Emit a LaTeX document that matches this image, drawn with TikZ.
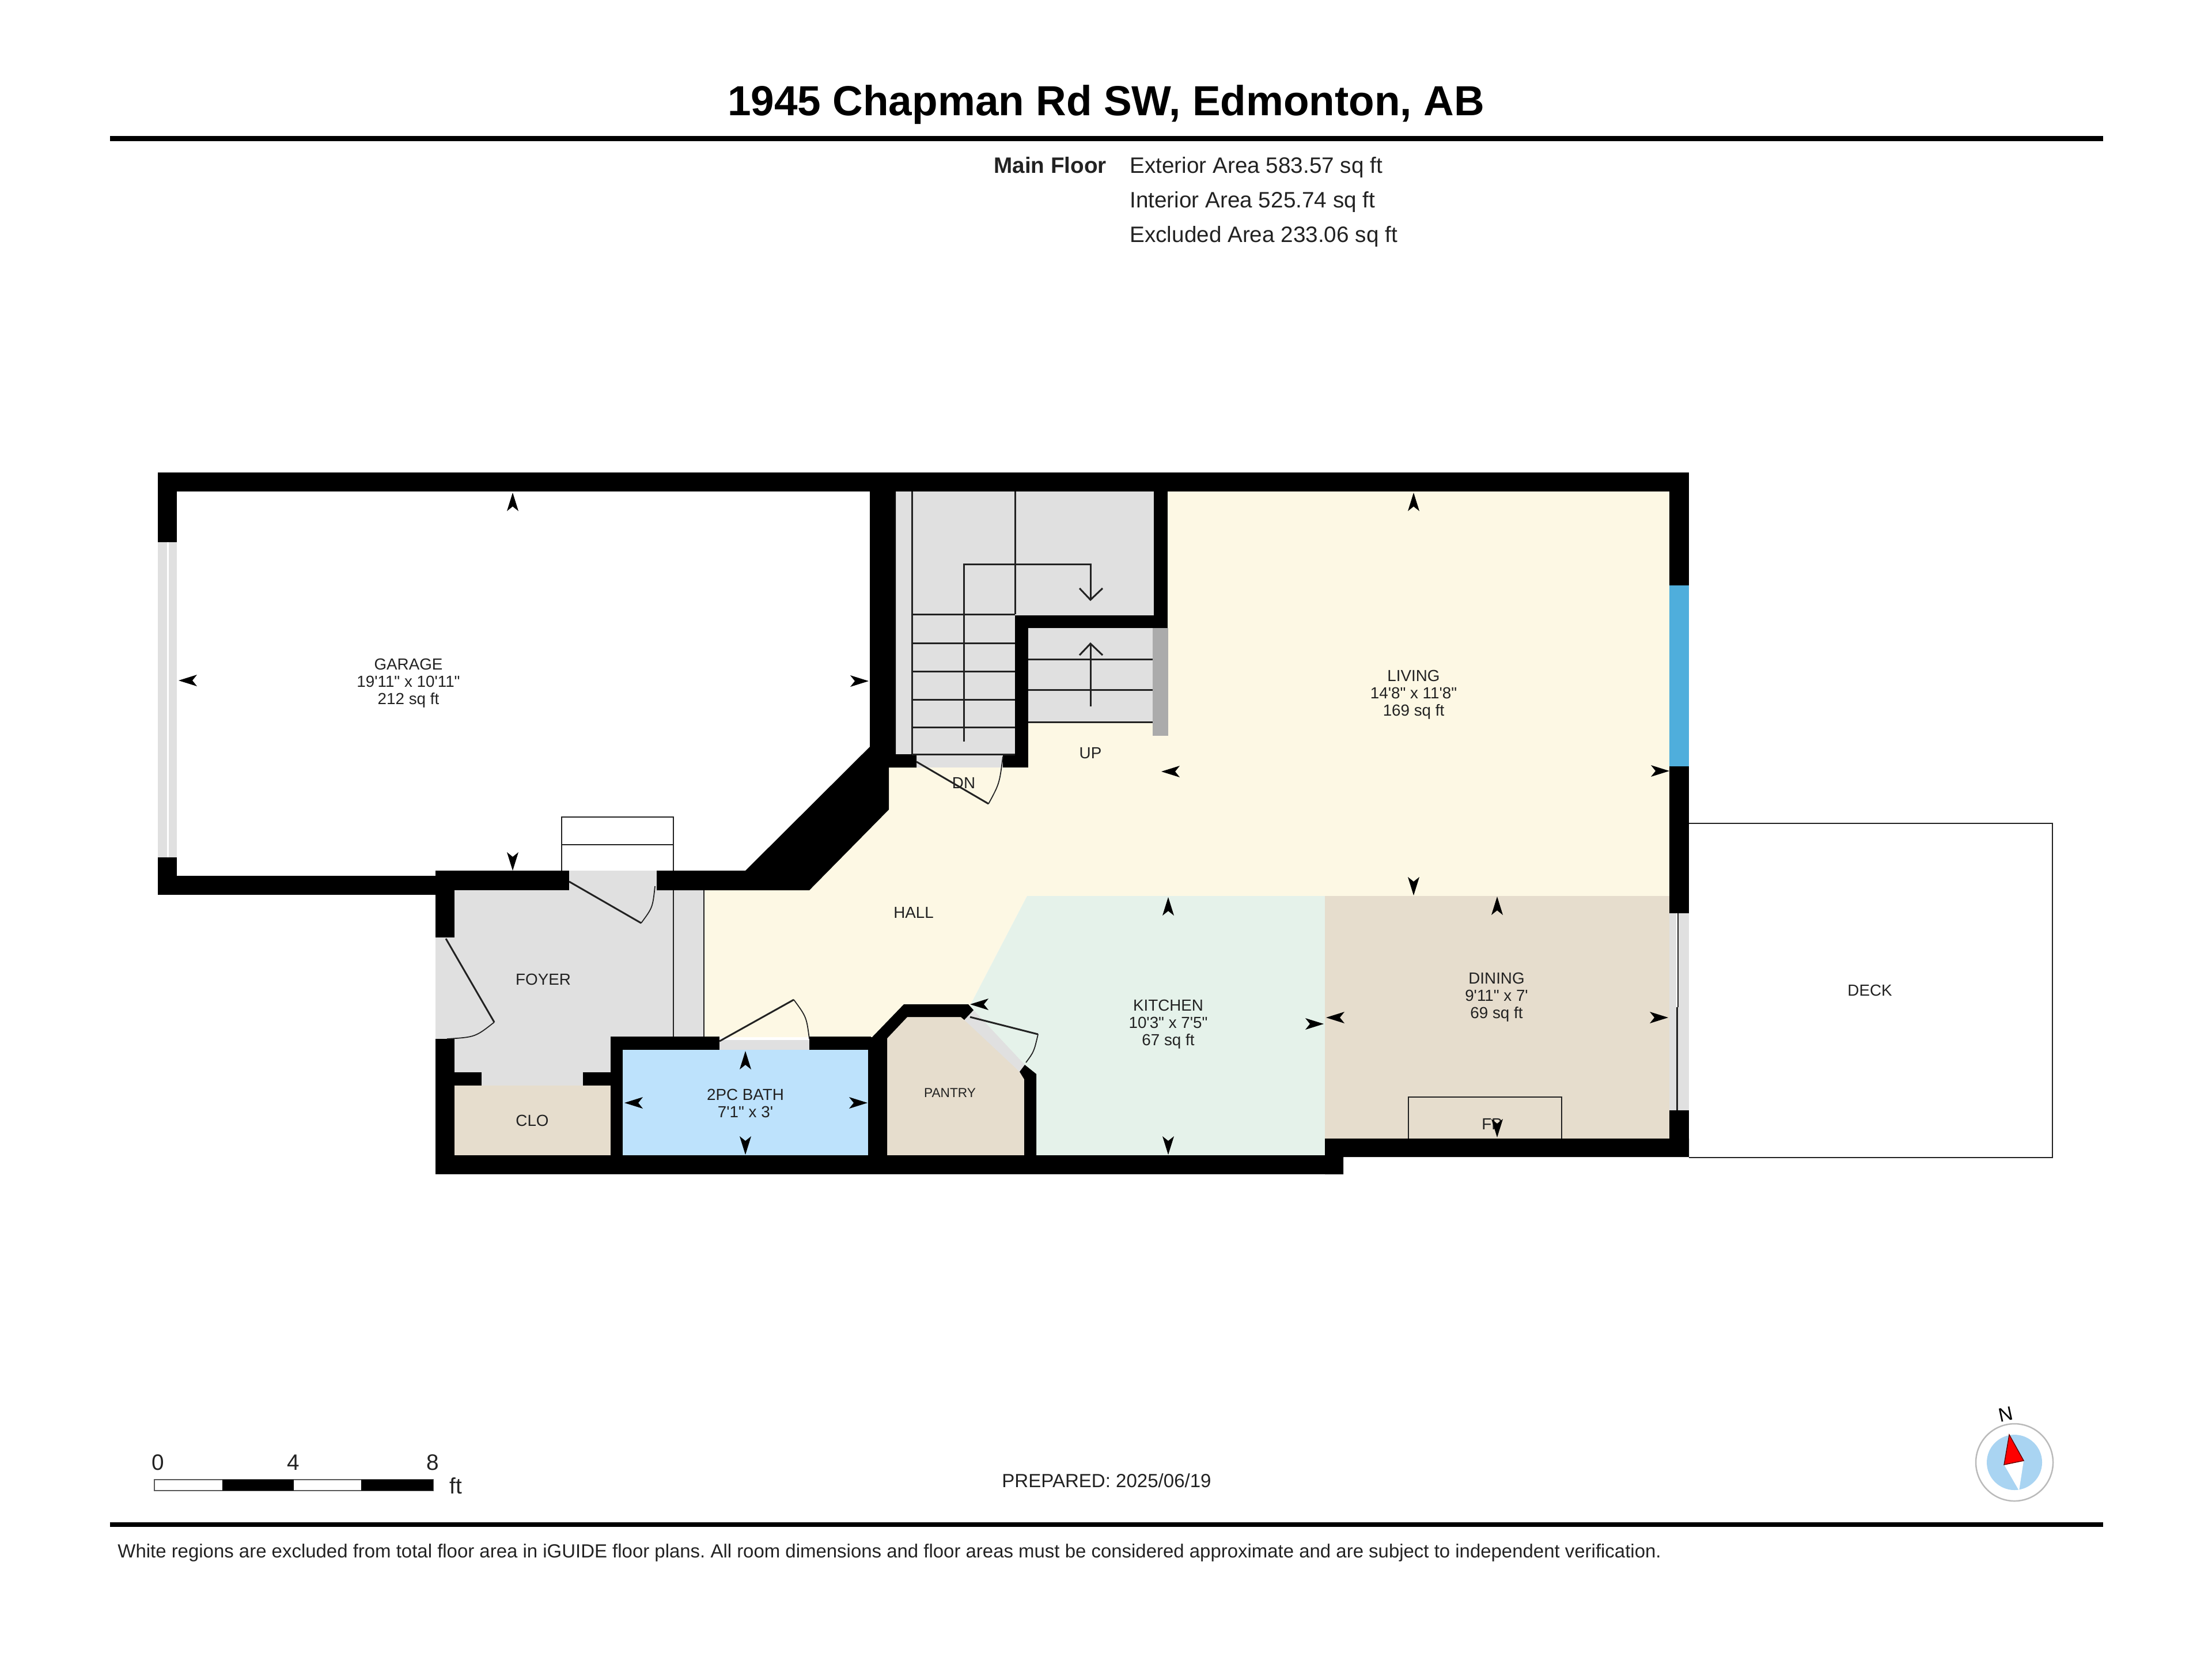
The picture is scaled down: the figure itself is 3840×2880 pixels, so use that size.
\documentclass[tikz,border=0pt]{standalone}
\usepackage{fontspec}
\usepackage{tikz}
\newfontfamily\planfont{Liberation Sans}
\definecolor{cream}{HTML}{FDF8E4}
\definecolor{mint}{HTML}{E5F2EA}
\definecolor{beige}{HTML}{E6DDCD}
\definecolor{bathblue}{HTML}{BDE2FC}
\definecolor{floorgrey}{HTML}{E0E0E0}
\definecolor{inkdark}{HTML}{222222}
\definecolor{windowblue}{HTML}{4FAEDC}
\definecolor{compassblue}{HTML}{A9D4F2}
\tikzstyle{wall}=[fill=black]
\tikzstyle{thin line}=[draw=inkdark,line width=0.85pt]
\tikzstyle{hair line}=[draw=inkdark,line width=0.5pt]
\tikzstyle{room}=[inner sep=0,align=center,text=inkdark,font=\planfont\frenchspacing\fontsize{7.9}{8.55}\selectfont]
\tikzstyle{small room}=[room,font=\planfont\fontsize{6.45}{7}\selectfont]
\tikzstyle{sheet}=[inner sep=0,anchor=base west,text=inkdark,font=\planfont\frenchspacing\fontsize{11}{13}\selectfont]
\newcommand\roommark[3]{\fill[black,shift={(#1,#2)},rotate=#3] (0,0) -- (-32,-10) -- (-24,0) -- (-32,10) -- cycle;}
\begin{document}
\begin{tikzpicture}[x=0.01cm,y=-0.01cm,line width=0.8pt]
  \useasboundingbox (0,0) rectangle (3840,2880);
  % sheet
  \node[inner sep=0,anchor=base,font=\planfont\bfseries\frenchspacing\fontsize{20.75}{24}\selectfont] at (1920,200) (title) {1945 Chapman Rd SW, Edmonton, AB};
  \fill (191,236) rectangle (3651,245);
  \fill (191,2642) rectangle (3651,2650);
  \node[sheet,font=\planfont\bfseries\fontsize{11}{13}\selectfont] at (1724,300) (floor) {Main Floor};
  \node[sheet] at (1960,300) (exterior) {Exterior Area 583.57 sq ft};
  \node[sheet] at (1960,360) (interior) {Interior Area 525.74 sq ft};
  \node[sheet] at (1960,420) (excluded) {Excluded Area 233.06 sq ft};
  \node[sheet,font=\planfont\fontsize{9.4}{11}\selectfont] at (1738,2581) (prepared) {PREPARED: 2025/06/19};
  \node[sheet,font=\planfont\frenchspacing\fontsize{9.37}{11}\selectfont] at (203,2703) (note) {White regions are excluded from total floor area in iGUIDE floor plans. All room dimensions and floor areas must be considered approximate and are subject to independent verification.};
  % room floors
  \fill[cream] (1222,1545) -- (1405,1545) -- (1543,1405) -- (1543,1332) -- (1785,1332) -- (1785,1253) -- (2001,1253) -- (2027,1090) -- (2027,853) -- (2900,853) -- (2900,1555) -- (1783,1555) -- (1684,1745) -- (1569,1743) -- (1514,1800) -- (1222,1800) -- cycle;
  \fill[mint] (1783,1555) -- (2300,1555) -- (2300,2006) -- (1790,2006) -- (1790,1860) -- (1684,1765) -- (1684,1745) -- cycle;
  \fill[beige] (2300,1555) rectangle (2900,1980);
  \fill[bathblue] (1070,1815) rectangle (1510,2006);
  \fill[beige] (1535,2006) -- (1535,1802) -- (1575,1760) -- (1668,1760) -- (1780,1870) -- (1780,2006) -- cycle;
  \fill[beige] (785,1880) rectangle (1065,2006);
  \fill[floorgrey] (785,1545) rectangle (1222,1800);
  \fill[floorgrey] (785,1800) rectangle (1065,1865);
  \fill[floorgrey] (1555,853) rectangle (2005,1068);
  \fill[floorgrey] (1555,1068) rectangle (1765,1309);
  \fill[floorgrey] (1785,1090) rectangle (2003,1253);
  % openings
  \fill[floorgrey] (988,1511) rectangle (1140,1545);
  \fill[floorgrey] (756,1627) rectangle (789,1803);
  \fill[floorgrey] (836,1861) rectangle (1012,1884);
  \fill[floorgrey] (1249,1805) rectangle (1405,1822);
  \fill[floorgrey] (1591,1309) rectangle (1741,1332);
  \fill[floorgrey] (274,941) rectangle (307,1488);
  \fill[floorgrey] (2898,1585) rectangle (2932,1927);
  \fill[floorgrey] (1674,1770) -- (1690,1753) -- (1779,1848) -- (1770,1860) -- cycle;
  \fill[white] (290,941) rectangle (293,1488);
  \fill[white] (2910,1585) rectangle (2913,1927);
  \fill[black!33] (2001,1090) rectangle (2028,1277);
  \fill[windowblue] (2898,1016) rectangle (2932,1330);
  % walls
  \fill[wall] (274,820) rectangle (2932,853);
  \fill[wall] (274,820) rectangle (307,941);
  \fill[wall] (274,1488) rectangle (307,1553);
  \fill[wall] (274,1520) rectangle (756,1553);
  \fill[wall] (756,1511) rectangle (988,1545);
  \fill[wall] (756,1511) rectangle (789,1627);
  \fill[wall] (756,1803) rectangle (789,2037);
  \fill[wall] (756,2005) rectangle (2332,2038);
  \fill[wall] (2300,1976) -- (2932,1976) -- (2932,2008) -- (2332,2008) -- (2332,2038) -- (2300,2038) -- cycle;
  \fill[wall] (2898,820) rectangle (2932,1016);
  \fill[wall] (2898,1330) rectangle (2932,1585);
  \fill[wall] (2898,1927) rectangle (2932,2008);
  \fill[wall] (1510,853) -- (1555,853) -- (1555,1309) -- (1591,1309) -- (1591,1332) -- (1543,1332) -- (1543,1405) -- (1405,1545) -- (1140,1545) -- (1140,1511) -- (1294,1511) -- (1510,1296) -- cycle;
  \fill[wall] (2003,853) rectangle (2027,1090);
  \fill[wall] (1762,1068) rectangle (2027,1090);
  \fill[wall] (1762,1068) rectangle (1785,1332);
  \fill[wall] (1741,1309) rectangle (1785,1332);
  \fill[wall] (1060,1799) rectangle (1249,1822);
  \fill[wall] (1405,1799) rectangle (1512,1822);
  \fill[wall] (1060,1799) rectangle (1081,2005);
  \fill[wall] (789,1861) rectangle (836,1884);
  \fill[wall] (1012,1861) rectangle (1060,1884);
  \fill[wall] (1507,1800) -- (1514,1800) -- (1569,1743) -- (1681,1743) -- (1690,1753) -- (1674,1770) -- (1668,1765) -- (1575,1765) -- (1540,1802) -- (1540,2005) -- (1507,2005) -- cycle;
  \fill[wall] (1779,1848) -- (1799,1864) -- (1799,2005) -- (1778,2005) -- (1778,1873) -- (1770,1860) -- cycle;
  % stairs
  \draw[thin line] (1583,853) -- (1583,1309);
  \draw[thin line] (1762,853) -- (1762,1066);
  \foreach \y in {1066,1116,1165,1214,1262,1309}
    \draw[thin line] (1583,\y) -- (1762,\y);
  \foreach \y in {1144,1197,1253}
    \draw[thin line] (1785,\y) -- (2001,\y);
  \draw[thin line] (1673,1287) -- (1673,979) -- (1893,979) -- (1893,1041);
  \draw[thin line] (1874,1021) -- (1893,1041) -- (1914,1021);
  \draw[thin line] (1893,1226) -- (1893,1117);
  \draw[thin line] (1874,1137) -- (1893,1117) -- (1914,1137);
  \draw[hair line] (975,1511) -- (975,1418) -- (1169,1418) -- (1169,1511);
  \draw[hair line] (975,1466) -- (1169,1466);
  % doors and fixtures
  \draw[hair line] (1169,1545) -- (1169,1799);
  \draw[hair line] (1222,1545) -- (1222,1799);
  \draw[thin line] (988,1530) -- (1113,1602);
  \draw[hair line] (1113,1602) .. controls (1133,1575) .. (1137,1538);
  \draw[thin line] (774,1629) -- (858,1774);
  \draw[hair line] (858,1774) .. controls (825,1800) .. (776,1803);
  \draw[thin line] (1249,1807) -- (1378,1735);
  \draw[hair line] (1378,1735) .. controls (1400,1765) .. (1405,1803);
  \draw[thin line] (1591,1322) -- (1716,1395);
  \draw[hair line] (1716,1395) .. controls (1735,1360) .. (1741,1313);
  \draw[thin line] (1684,1765) -- (1802,1795);
  \draw[hair line] (1802,1795) .. controls (1795,1825) .. (1781,1844);
  \draw[hair line] (2913,1585) -- (2913,1748);
  \draw[thin line] (2911,1748) -- (2911,1927);
  \draw[hair line] (2445,1976) -- (2445,1904) -- (2711,1904) -- (2711,1976);
  \draw[hair line,line width=0.65pt] (2932,1429) -- (3563,1429) -- (3563,2009) -- (2932,2009);
  % room labels
  \node[room] at (709,1186) (garage) {GARAGE\\19'11" x 10'11"\\212 sq ft};
  \node[room] at (2454,1206) (living) {LIVING\\14'8" x 11'8"\\169 sq ft};
  \node[room] at (2028,1778) (kitchen) {KITCHEN\\10'3" x 7'5"\\67 sq ft};
  \node[room] at (2598,1731) (dining) {DINING\\9'11" x 7'\\69 sq ft};
  \node[room] at (1294,1915) (bath) {2PC BATH\\7'1" x 3'};
  \node[room] at (943,1700) (foyer) {FOYER};
  \node[room] at (1586,1584) (hall) {HALL};
  \node[room] at (924,1945) (clo) {CLO};
  \node[room] at (1893,1307) (up) {UP};
  \node[room] at (1673,1359) (dn) {DN};
  \node[room] at (2590,1951) (fp) {FP};
  \node[room] at (3246,1719) (deck) {DECK};
  \node[small room] at (1649,1897) (pantry) {PANTRY};
  % dimension marks
  \roommark{890}{855}{90}
  \roommark{890}{1511}{270}
  \roommark{310}{1181}{180}
  \roommark{1508}{1182}{0}
  \roommark{2454}{855}{90}
  \roommark{2454}{1554}{270}
  \roommark{2016}{1339}{180}
  \roommark{2898}{1338}{0}
  \roommark{2028}{1557}{90}
  \roommark{2028}{2004}{270}
  \roommark{1684}{1743}{180}
  \roommark{2298}{1777}{0}
  \roommark{2599}{1556}{90}
  \roommark{2599}{1974}{270}
  \roommark{2302}{1766}{180}
  \roommark{2896}{1766}{0}
  \roommark{1294}{1824}{90}
  \roommark{1294}{2004}{270}
  \roommark{1084}{1914}{180}
  \roommark{1506}{1914}{0}
  % scale bar
  \draw[draw=black!65,line width=0.4pt,fill=white] (268,2568) rectangle (752,2587);
  \fill[black] (386,2568) rectangle (510,2587);
  \fill[black] (627,2568) rectangle (752,2587);
  \node[sheet,anchor=base] at (274,2551) (scale zero) {0};
  \node[sheet,anchor=base] at (509,2551) (scale four) {4};
  \node[sheet,anchor=base] at (751,2551) (scale eight) {8};
  \node[sheet,anchor=base] at (791,2592) (scale unit) {ft};
  % compass
  \draw[draw=black!27,line width=0.7pt,fill=white] (3497,2538) circle (67);
  \fill[compassblue] (3497,2538) circle (48);
  \fill[white] (3479,2542) -- (3513,2535) -- (3505,2587) -- cycle;
  \fill[red,draw=black!60!red,line width=0.4pt] (3488,2490) -- (3513,2535) -- (3479,2542) -- cycle;
  \node[inner sep=0,rotate=12,font=\planfont\fontsize{9.6}{11}\selectfont] at (3482,2455) (north) {N};
\end{tikzpicture}
\end{document}
